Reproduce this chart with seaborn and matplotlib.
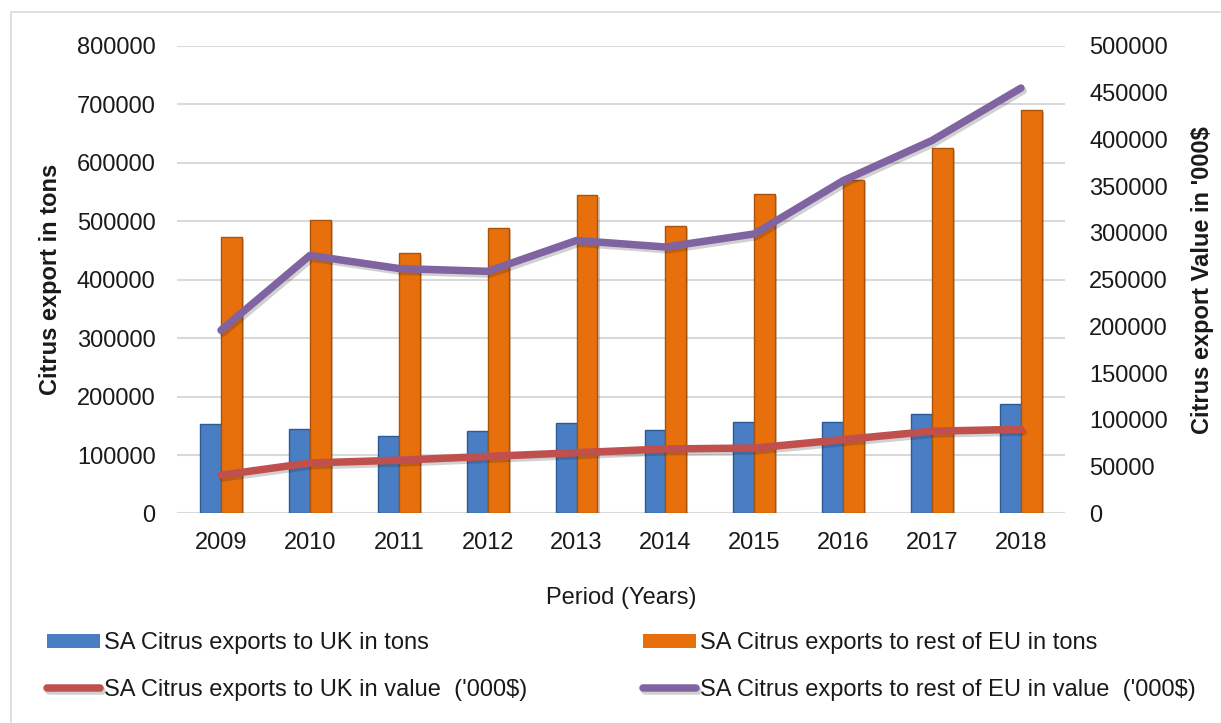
import numpy as np
import pandas as pd
import matplotlib
matplotlib.use("Agg")
import matplotlib.pyplot as plt
import matplotlib.patheffects as pe
from matplotlib.patches import Rectangle
import seaborn as sns

years = ["2009", "2010", "2011", "2012", "2013", "2014", "2015", "2016", "2017", "2018"]
uk_tons = [153000, 144000, 132000, 141000, 155000, 143000, 156000, 156000, 171000, 188000]
eu_tons = [473000, 503000, 446000, 489000, 545000, 492000, 547000, 570000, 625000, 690000]
uk_value = [41000, 54000, 57000, 61000, 65000, 69000, 70000, 79000, 88000, 90000]
eu_value = [196000, 276000, 262000, 259000, 292000, 285000, 299000, 356000, 399000, 455000]

lbl_uk_tons = "SA Citrus exports to UK in tons"
lbl_eu_tons = "SA Citrus exports to rest of EU in tons"
lbl_uk_val = "SA Citrus exports to UK in value  ('000$)"
lbl_eu_val = "SA Citrus exports to rest of EU in value  ('000$)"

sns.set_theme(style="white")
plt.rcParams["font.family"] = ["Liberation Sans", "DejaVu Sans"]

FS = 17
TEXT = "#1a1a1a"

tons = pd.DataFrame({
    "Year": years * 2,
    "Tons": uk_tons + eu_tons,
    "Series": [lbl_uk_tons] * len(years) + [lbl_eu_tons] * len(years),
})

fig = plt.figure(figsize=(12.21, 7.23), dpi=100)
ax = fig.add_axes([0.1446, 0.2898, 0.7280, 0.6466])

sns.barplot(
    data=tons, x="Year", y="Tons", hue="Series", ax=ax,
    palette=["#4a7ec4", "#e8700c"], width=0.47, gap=0,
    edgecolor="none", saturation=1, errorbar=None,
)
# darker rims give the bars a bevelled look
rims = {lbl_uk_tons: "#2c5a92", lbl_eu_tons: "#a8530a"}
for cont, name in zip(ax.containers, [lbl_uk_tons, lbl_eu_tons]):
    for bar in cont:
        bar.set_edgecolor(rims[name])
        bar.set_linewidth(1.0)
        bar.set_path_effects([pe.SimplePatchShadow(offset=(1.5, -1.5), alpha=0.25), pe.Normal()])

bar_handles, bar_labels = ax.get_legend_handles_labels()
ax.get_legend().remove()

ax.set_ylim(0, 800000)
ax.set_yticks(np.arange(0, 800001, 100000))
ax.set_xlim(-0.5, len(years) - 0.5)
ax.grid(axis="y", color="#d9d9d9", linewidth=1.5)
ax.set_axisbelow(True)
for s in ax.spines.values():
    s.set_visible(False)
ax.tick_params(axis="both", length=0, labelsize=FS, labelcolor=TEXT)
ax.tick_params(axis="y", pad=15)
ax.tick_params(axis="x", pad=13)
ax.set_xlabel("Period (Years)", fontsize=FS, color=TEXT, labelpad=24)
ax.set_ylabel("Citrus export in tons", fontsize=FS, fontweight="bold", color=TEXT, labelpad=11)

ax2 = ax.twinx()
xpos = np.arange(len(years))
vals = pd.DataFrame({
    "pos": np.concatenate([xpos, xpos]),
    "Value": uk_value + eu_value,
    "Series": [lbl_uk_val] * len(years) + [lbl_eu_val] * len(years),
})
sns.lineplot(
    data=vals, x="pos", y="Value", hue="Series", ax=ax2,
    palette=["#c0504d", "#8064a2"], linewidth=5.4, legend=True,
    path_effects=[pe.SimpleLineShadow(offset=(1.5, -2), alpha=0.2), pe.Normal()],
)
for ln in ax2.get_lines():
    ln.set_solid_capstyle("round")
line_handles, line_labels = ax2.get_legend_handles_labels()
ax2.get_legend().remove()
for h in line_handles:
    h.set_linewidth(5.4)
    h.set_solid_capstyle("round")

ax2.set_ylim(0, 500000)
ax2.set_yticks(np.arange(0, 500001, 50000))
ax2.set_xlim(-0.5, len(years) - 0.5)
ax2.grid(False)
for s in ax2.spines.values():
    s.set_visible(False)
ax2.tick_params(axis="y", length=0, labelsize=FS, labelcolor=TEXT, pad=17)
ax2.set_xlabel("")
ax2.set_ylabel("Citrus export Value in '000$", fontsize=FS, fontweight="bold", color=TEXT, labelpad=17)

handles = [bar_handles[0], line_handles[0], bar_handles[1], line_handles[1]]
labels = [lbl_uk_tons, lbl_uk_val, lbl_eu_tons, lbl_eu_val]
fig.legend(
    handles, labels, ncol=2, loc="upper left",
    bbox_to_anchor=(47 / 1221, 1 - 632 / 723), frameon=False, fontsize=FS,
    borderaxespad=0, borderpad=0,
    handlelength=2.25, handleheight=0.55, handletextpad=0.17,
    columnspacing=4.9, labelspacing=1.05, labelcolor=TEXT,
)

# light frame around the chart area
fig.patches.append(Rectangle((11 / 1221, -0.2), 1.2, 1.2 - 12 / 723,
                             transform=fig.transFigure, fill=False,
                             edgecolor="#d9d9d9", linewidth=1.2))

fig.savefig("out.png", dpi=100)
